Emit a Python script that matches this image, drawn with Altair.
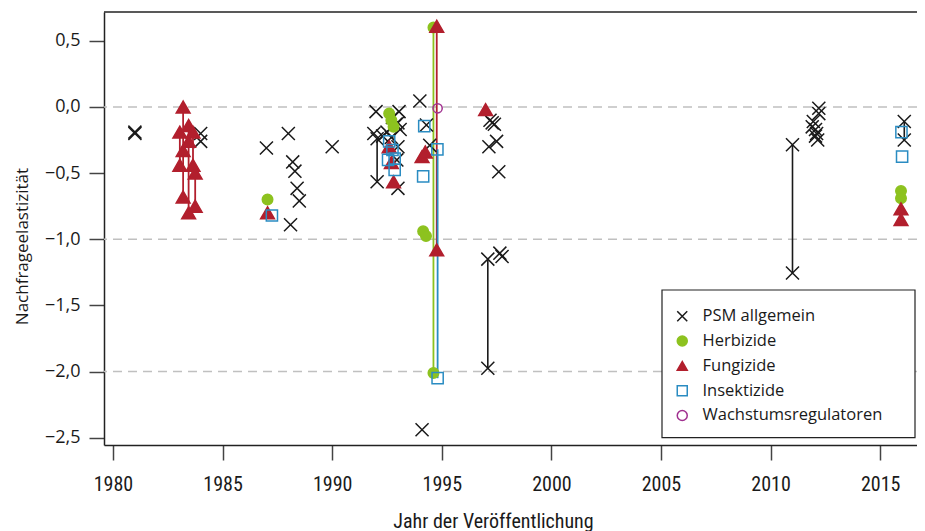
import altair as alt
import pandas as pd

# ---------------- data ----------------
cats = ["PSM allgemein", "Herbizide", "Fungizide", "Insektizide", "Wachstumsregulatoren"]

psm_year = [1981.0, 1981.0, 1984.0, 1984.0, 1987.0, 1988.0, 1988.2, 1988.3, 1988.4, 1988.5,
            1988.1, 1990.0, 1992.0, 1991.9, 1992.05, 1992.3, 1992.05, 1992.5, 1992.7, 1992.75,
            1992.9, 1993.0, 1993.05, 1993.1, 1993.0, 1992.95, 1993.0, 1994.0, 1994.3, 1994.45,
            1994.1, 1997.1, 1997.1, 1997.2, 1997.4, 1997.3, 1997.5, 1997.15, 1997.6, 1997.65,
            1997.75, 2011.0, 2011.0, 2012.2, 2012.2, 2011.95, 2011.9, 2012.05, 2012.1, 2012.05,
            2012.15, 2016.1, 2016.1]
psm_val = [-0.19, -0.20, -0.20, -0.26, -0.31, -0.20, -0.415, -0.485, -0.615, -0.71,
           -0.89, -0.30, -0.035, -0.20, -0.24, -0.22, -0.565, -0.19, -0.23, -0.08,
           -0.13, -0.12, -0.035, -0.17, -0.30, -0.40, -0.615, 0.045, -0.136, -0.29,
           -2.44, -1.15, -1.975, -0.10, -0.13, -0.12, -0.26, -0.30, -0.49, -1.105,
           -1.13, -0.285, -1.255, -0.01, -0.05, -0.11, -0.15, -0.17, -0.20, -0.22,
           -0.25, -0.11, -0.25]

herb_year = [1987.05, 1992.6, 1992.7, 1992.8, 1994.15, 1994.28, 1994.62, 1994.62, 2015.95, 2015.95]
herb_val = [-0.70, -0.05, -0.10, -0.15, -0.94, -0.975, 0.60, -2.01, -0.635, -0.69]

fung_year = [1983.2, 1983.2, 1983.2, 1983.05, 1983.05, 1983.45, 1983.45, 1983.45, 1983.65, 1983.65,
             1983.75, 1983.75, 1987.05, 1992.6, 1992.7, 1992.8, 1994.1, 1994.25, 1994.77, 1994.77,
             1997.0, 2015.95, 2015.95]
fung_val = [0.0, -0.33, -0.68, -0.19, -0.44, -0.14, -0.26, -0.80, -0.19, -0.44,
            -0.50, -0.75, -0.80, -0.30, -0.42, -0.565, -0.375, -0.34, 0.61, -1.08,
            -0.02, -0.77, -0.85]

ins_year = [1987.25, 1992.6, 1992.75, 1992.55, 1992.85, 1992.85, 1994.2, 1994.15, 1994.8, 1994.81,
            2015.97, 2016.0]
ins_val = [-0.82, -0.26, -0.325, -0.40, -0.39, -0.475, -0.145, -0.525, -0.32, -2.05,
           -0.19, -0.375]

wach_year = [1994.81]
wach_val = [-0.01]

# connecting lines (same study): category, year, from, to
seg_cat = ["PSM allgemein", "PSM allgemein", "PSM allgemein", "PSM allgemein",
           "Fungizide", "Fungizide", "Fungizide", "Fungizide", "Fungizide", "Fungizide",
           "Herbizide", "Insektizide"]
seg_year = [1992.05, 1997.1, 2011.0, 2016.1,
            1983.2, 1983.05, 1983.45, 1983.65, 1983.75, 1994.77,
            1994.62, 1994.81]
seg_from = [-0.24, -1.15, -0.285, -0.11,
            0.0, -0.19, -0.14, -0.19, -0.50, 0.61,
            0.60, -0.32]
seg_to = [-0.565, -1.975, -1.255, -0.25,
          -0.68, -0.44, -0.80, -0.44, -0.75, -1.08,
          -2.01, -2.05]

grid_vals = [0, -1, -2]
x_ticks = [1980, 1985, 1990, 1995, 2000, 2005, 2010, 2015]
y_ticks = [0.5, 0.0, -0.5, -1.0, -1.5, -2.0, -2.5]

# ---------------- tables ----------------
rows = []
for c, ys, vs in zip(cats, [psm_year, herb_year, fung_year, ins_year, wach_year],
                     [psm_val, herb_val, fung_val, ins_val, wach_val]):
    for a, b in zip(ys, vs):
        rows.append({"cat": c, "year": a, "value": b})
pts = pd.DataFrame(rows)
segs = pd.DataFrame({"cat": seg_cat, "year": seg_year, "y1": seg_from, "y2": seg_to})
grid = pd.DataFrame({"v": grid_vals})
one = pd.DataFrame({"a": [0]})

# ---------------- styling ----------------
W, H = 813, 433
X_PATH = "M-1,-1L1,1M-1,1L1,-1"
col = {"PSM allgemein": "#1a1a1a", "Herbizide": "#8dc21f", "Fungizide": "#b21f2d",
       "Insektizide": "#2a8cc2", "Wachstumsregulatoren": "#a0308f"}
shape_range = [X_PATH, "circle", "triangle-up", "square", "circle"]
stroke_range = [col[c] for c in cats]
fill_range = ["transparent", col["Herbizide"], col["Fungizide"], "transparent", "transparent"]
mark_size = {"PSM allgemein": 170, "Herbizide": 110, "Fungizide": 190,
             "Insektizide": 125, "Wachstumsregulatoren": 85}

xscale = alt.Scale(domain=[1979.59, 2016.68], nice=False, zero=False)
yscale = alt.Scale(domain=[-2.555, 0.718], nice=False, zero=False)

cond_font = "Liberation Sans Narrow, Roboto Condensed, DejaVu Sans Condensed, sans-serif"

xaxis = alt.Axis(values=x_ticks, format="d", grid=False, tickSize=15, tickWidth=1.5,
                 tickColor="#444", domainColor="#222", domainWidth=1.5,
                 labelFont=cond_font, labelFontSize=20, labelColor="#1a1a1a", labelPadding=14,
                 title="Jahr der Veröffentlichung", titleFont=cond_font, titleFontSize=20,
                 titleFontWeight="normal", titleColor="#1a1a1a",
                 titleX=389, titleY=76, titleBaseline="middle", titleAlign="center")
yaxis = alt.Axis(values=y_ticks, grid=False, tickSize=15, tickWidth=1.5,
                 tickColor="#444", domainColor="#222", domainWidth=1.5,
                 labelExpr="replace(replace(format(datum.value, '.1f'), '.', ','), '-', '\u2212')",
                 labelFont="Open Sans", labelFontSize=18, labelColor="#1a1a1a", labelPadding=9,
                 title="Nachfrageelastizität", titleFont="Open Sans", titleFontSize=17,
                 titleFontWeight="normal", titleColor="#1a1a1a",
                 titleX=-82, titleY=234, titleBaseline="middle", titleAlign="center", titleAngle=270)

gridlines = alt.Chart(grid).mark_rule(stroke="#c0c0c0", strokeWidth=1.5, strokeDash=[9, 6]).encode(
    y=alt.Y("v:Q", scale=yscale, axis=yaxis)
)

topline = alt.Chart(one).mark_rule(stroke="#222", strokeWidth=1.5).encode(
    x=alt.value(0), x2=alt.value(W), y=alt.value(0)
)

legend_box = alt.Chart(one).mark_rect(fill="white", stroke="#222", strokeWidth=1.2).encode(
    x=alt.value(558), x2=alt.value(811), y=alt.value(278), y2=alt.value(425.6)
)

seg_layers = []
for c in ["PSM allgemein", "Fungizide", "Herbizide", "Insektizide"]:
    seg_layers.append(
        alt.Chart(segs).transform_filter(alt.datum.cat == c)
        .mark_rule(stroke=col[c], strokeWidth=1.6 if c == "PSM allgemein" else 1.8)
        .encode(x=alt.X("year:Q", scale=xscale, axis=xaxis),
                y=alt.Y("y1:Q", scale=yscale, axis=yaxis), y2="y2:Q")
    )

legend = alt.Legend(title=None, orient="none", legendX=570, legendY=296,
                    labelFont="Open Sans", labelFontSize=16.5, labelColor="#1a1a1a",
                    labelLimit=400,
                    symbolSize=100, symbolStrokeWidth=1.5, rowPadding=7.8, labelOffset=12,
                    padding=0, zindex=2)

point_layers = []
for c in cats:
    point_layers.append(
        alt.Chart(pts).transform_filter(alt.datum.cat == c)
        .mark_point(strokeWidth=1.5, opacity=1, size=mark_size[c])
        .encode(
            x=alt.X("year:Q", scale=xscale, axis=xaxis),
            y=alt.Y("value:Q", scale=yscale, axis=yaxis),
            shape=alt.Shape("cat:N", scale=alt.Scale(domain=cats, range=shape_range), legend=legend),
            stroke=alt.Stroke("cat:N", scale=alt.Scale(domain=cats, range=stroke_range), legend=legend),
            fill=alt.Fill("cat:N", scale=alt.Scale(domain=cats, range=fill_range), legend=legend),
        )
    )

chart = alt.layer(gridlines, legend_box, topline, *seg_layers, *point_layers).properties(
    width=W, height=H,
    autosize=alt.AutoSizeParams(type="none"),
    padding={"left": 96, "top": 4, "right": 0, "bottom": 86},
).configure_view(stroke=None)

chart.save("out.html", embed_options={"renderer": "svg", "actions": False})
